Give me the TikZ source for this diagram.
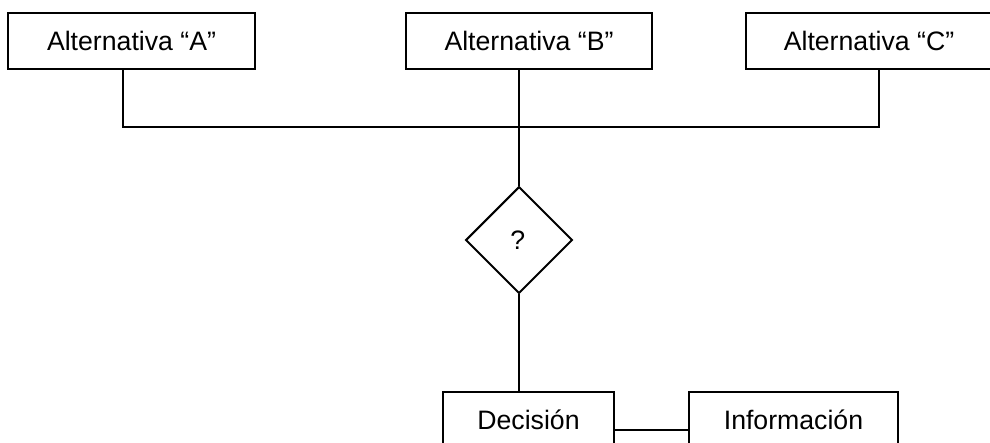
\documentclass[tikz,border=0pt]{standalone}
\usepackage{fontspec}
\setmainfont{Liberation Sans}
\usetikzlibrary{shapes.geometric}
\begin{document}
\begin{tikzpicture}[x=0.75pt,y=-0.75pt,
  line width=1.5pt,
  every node/.style={font=\fontsize{20}{24}\selectfont},
  boxnode/.style={draw,rectangle,inner sep=0pt,minimum height=42pt},
  choice/.style={draw,diamond,inner sep=0pt,minimum width=80pt,minimum height=80pt}]
  \useasboundingbox (0,0) rectangle (990,443);
  \clip (0,0) rectangle (990,443);
  % alternatives in the top row
  \node[boxnode,minimum width=185.25pt] (A) at (131.5,41) {Alternativa “A”};
  \node[boxnode,minimum width=184.5pt]  (B) at (529,41)   {Alternativa “B”};
  \node[boxnode,minimum width=184.5pt]  (C) at (869,41)   {Alternativa “C”};
  % decision point
  \node[choice] (q) at (519,240) {\raisebox{-2pt}{\hspace*{-2pt}?}};
  % bottom row
  \node[boxnode,minimum width=128.25pt] (dec) at (528.5,420) {Decisión};
  \node[boxnode,minimum width=156.75pt] (inf) at (793.5,420) {Información};
  % collecting bus
  \coordinate (bus) at (519,127);
  \draw ([xshift=-6.375pt]A.south) |- (bus) -| ([xshift=7.5pt]C.south);
  \draw ([xshift=-7.5pt]B.south) -- (q.north);
  \draw (q.south) -- (q.south |- dec.north);
  \draw ([yshift=-7.5pt]dec.east) -- ([yshift=-7.5pt]inf.west);
\end{tikzpicture}
\end{document}
